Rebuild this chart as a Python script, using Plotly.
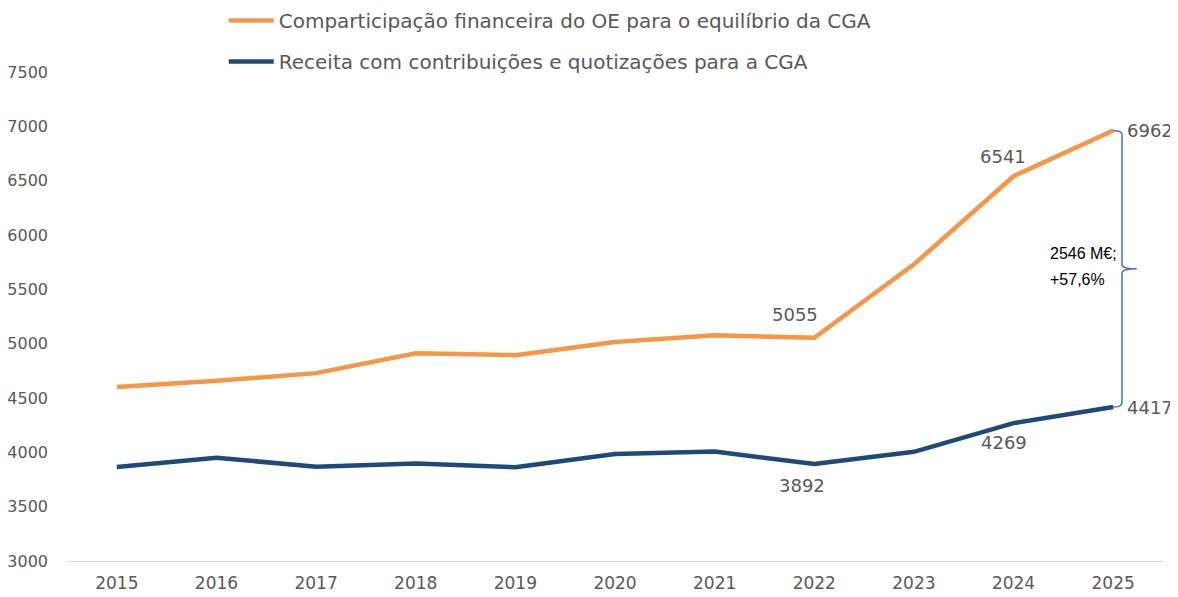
import plotly.graph_objects as go

years = [str(y) for y in range(2015, 2026)]
oe_comparticipacao = [4602, 4658, 4729, 4912, 4894, 5016, 5078, 5055, 5730, 6541, 6962]
receita_contribuicoes = [3866, 3950, 3868, 3898, 3862, 3984, 4008, 3892, 4005, 4269, 4417]
series_names = ["Comparticipação financeira do OE para o equilíbrio da CGA",
                "Receita com contribuições e quotizações para a CGA"]
y_ticks = [3000, 3500, 4000, 4500, 5000, 5500, 6000, 6500, 7000, 7500]

# which points carry a data label: (series index, year index, xshift, yshift)
labeled = [(0, 7, -19, 23), (0, 9, -11, 20), (0, 10, 37, 0),
           (1, 7, -12, -21), (1, 9, -10, -19), (1, 10, 37, 0)]
diff_lines = ["2546 M€;", "+57,6%"]

ORANGE = "#F79646"
BLUE = "#1F497D"
GREY = "#595959"
FONT = "DejaVu Sans"

# the page body adds an 8px offset; figure is sized so the whole chart fits the window
W, H = 1170, 589

fig = go.Figure()
fig.add_trace(go.Scatter(x=years, y=oe_comparticipacao, mode="lines", name=series_names[0],
                         line=dict(color=ORANGE, width=4.5), legendgroup="a"))
fig.add_trace(go.Scatter(x=years, y=receita_contribuicoes, mode="lines", name=series_names[1],
                         line=dict(color=BLUE, width=4.5), legendgroup="b"))

series = [oe_comparticipacao, receita_contribuicoes]
for s, i, dx, dy in labeled:
    fig.add_annotation(x=i, xref="x", y=series[s][i], yref="y", text=str(series[s][i]),
                       showarrow=False, xshift=dx, yshift=dy,
                       font=dict(family=FONT, size=18, color=GREY))

# brace between the two 2025 values
top = oe_comparticipacao[-1]
bot = receita_contribuicoes[-1]
mid = (top + bot) / 2
x0, x1, x2 = 0.954, 0.9626, 0.976
h = 40
path = (f"M {x0},{top} Q {x1},{top} {x1},{top - h} "
        f"L {x1},{mid + h} Q {x1},{mid} {x2},{mid} "
        f"Q {x1},{mid} {x1},{mid - h} "
        f"L {x1},{bot + h} Q {x1},{bot} {x0},{bot}")
fig.add_shape(type="path", path=path, xref="paper", yref="y",
              line=dict(color="#4472C4", width=1.5))
for k, line in enumerate(diff_lines):
    fig.add_annotation(x=0.8955, xref="paper", y=mid, yref="y", text=line, showarrow=False,
                       xanchor="left", align="left", yshift=15 - 26 * k,
                       font=dict(family="Liberation Sans", size=16, color="black"))

fig.update_layout(
    width=W, height=H,
    margin=dict(l=59, r=15, t=64, b=36, autoexpand=False),
    plot_bgcolor="white", paper_bgcolor="white",
    font=dict(family=FONT, color=GREY, size=16),
    showlegend=True,
    legend=dict(x=0.143, y=1.145, xanchor="left", yanchor="top",
                font=dict(family=FONT, size=20, color=GREY),
                traceorder="grouped", tracegroupgap=12, itemwidth=45,
                bgcolor="rgba(0,0,0,0)"),
    xaxis=dict(type="category", range=[-0.5, 10.5], showgrid=False, showline=True,
               linecolor="#D9D9D9", linewidth=1, ticks="", tickfont=dict(size=17, color=GREY),
               ticklabelstandoff=7, zeroline=False, automargin=False),
    yaxis=dict(range=[3000, 7500], tickvals=y_ticks, showgrid=False, showline=False,
               zeroline=False, ticks="", tickfont=dict(size=16, color=GREY),
               ticklabelstandoff=18, automargin=False),
)

fig.write_html("out.html")
